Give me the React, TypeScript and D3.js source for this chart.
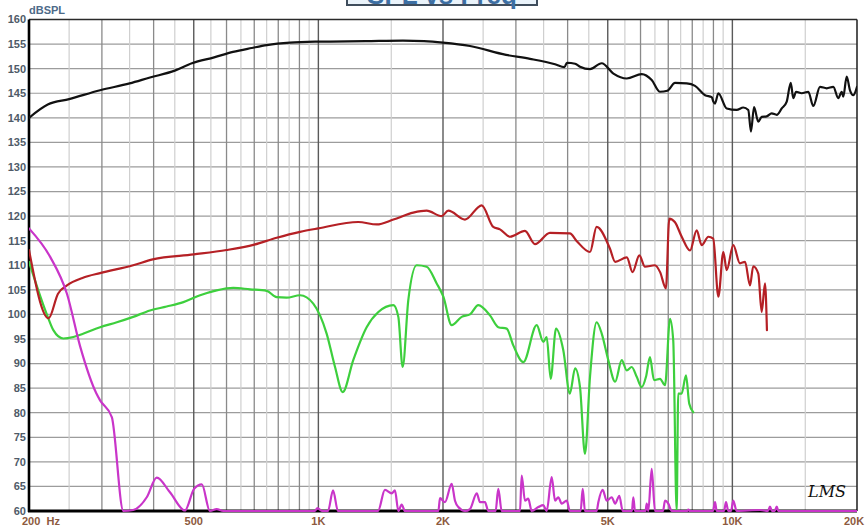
import React from 'react';
import * as d3 from 'd3';

// frequency (Hz), level (dB SPL)
const blackCurve: [number, number][] = [
  [200, 140], [222, 142.7], [250, 143.8], [297, 145.6], [350, 147], [392, 148.2], [450, 149.6],
  [495, 151.1], [560, 152.3], [622, 153.4], [690, 154.2], [751, 154.8], [854, 155.3], [1000, 155.5],
  [1300, 155.6], [1600, 155.7], [1800, 155.6], [2000, 155.3], [2324, 154.6], [2840, 152.8],
  [3245, 152.0], [3730, 150.9], [3930, 150.3], [3985, 151.2], [4170, 151.0], [4285, 150.4],
  [4530, 149.9], [4835, 151.1], [5160, 149.0], [5557, 148.0], [6040, 148.9], [6385, 147.7],
  [6687, 145.3], [6964, 145.5], [7270, 147.1], [7757, 147.0], [8124, 146.5], [8590, 144.6],
  [8915, 144.2], [8995, 143.3], [9080, 142.9], [9246, 145.0], [9690, 141.9], [10240, 141.6],
  [10625, 142.1], [10925, 141.6], [11090, 137.2], [11280, 142.2], [11550, 139.2], [11770, 140.2],
  [12100, 140.3], [12445, 140.9], [12800, 140.6], [13160, 141.9], [13530, 143.3], [13835, 147.1],
  [14035, 144.0], [14250, 145.3], [14705, 145.0], [15255, 145.3], [15685, 142.4], [16280, 146.3],
  [16900, 146.0], [17530, 146.3], [18025, 144.0], [18370, 145.3], [18530, 144.3], [18885, 148.4],
  [19235, 145.6], [19590, 144.6], [20000, 146.3],
];

const redCurve: [number, number][] = [
  [200, 113.1], [223, 99.2], [235, 104.2], [247, 105.9], [271, 107.5], [297, 108.4], [357, 110.0],
  [398, 111.2], [500, 112.2], [600, 113.1], [700, 114.2], [793, 115.6], [903, 116.8], [1000, 117.5],
  [1248, 118.8], [1384, 118.3], [1518, 119.3], [1695, 120.7], [1826, 121.1], [1985, 120.0],
  [2060, 121.1], [2260, 119.3], [2480, 122.2], [2645, 117.8], [2746, 117.3], [2904, 115.8],
  [3155, 117.0], [3336, 114.3], [3625, 116.6], [4050, 116.5], [4210, 114.9], [4530, 112.7],
  [4700, 117.8], [5060, 113.4], [5210, 110.7], [5560, 111.6], [5740, 108.6], [5960, 112.0],
  [6150, 109.7], [6500, 110.0], [6690, 108.6], [6910, 105.3], [7040, 119.5], [7260, 118.8],
  [7545, 115.8], [7900, 113.0], [8200, 117.1], [8430, 114.1], [8750, 115.8], [8990, 115.4],
  [9250, 103.6], [9510, 112.7], [9690, 109.0], [10050, 114.1], [10430, 110.4], [10730, 110.7],
  [11030, 105.9], [11230, 109.8], [11550, 108.3], [11770, 100.5], [11990, 106.3], [12120, 96.8],
];

const greenCurve: [number, number][] = [
  [200, 110.7], [222, 99.5], [229, 96.8], [242, 95.1], [256, 95.4], [271, 96.1], [297, 97.4],
  [326, 98.4], [357, 99.5], [392, 100.8], [430, 101.6], [472, 102.5], [518, 103.9], [568, 104.9],
  [623, 105.4], [684, 105.1], [750, 104.8], [793, 103.5], [838, 103.4], [903, 103.9], [972, 102.2],
  [1047, 96.1], [1097, 89.3], [1145, 84.2], [1214, 90.7], [1308, 97.4], [1396, 100.5], [1518, 101.9],
  [1560, 99.5], [1598, 89.3], [1649, 102.9], [1728, 110.0], [1826, 109.7], [1931, 106.3],
  [2004, 103.6], [2099, 97.8], [2219, 99.5], [2324, 100.0], [2434, 101.9], [2597, 99.8],
  [2720, 97.4], [2850, 97.1], [2957, 93.7], [3126, 90.3], [3368, 97.8], [3494, 94.4], [3560, 95.4],
  [3640, 86.9], [3750, 97.1], [3905, 92.7], [4050, 83.9], [4170, 89.0], [4285, 85.2], [4405, 71.6],
  [4530, 87.3], [4700, 98.4], [4835, 96.1], [5015, 90.7], [5210, 86.3], [5404, 90.7], [5557, 88.6],
  [5713, 89.3], [5874, 87.3], [6040, 85.2], [6185, 87.3], [6324, 91.3], [6467, 86.6], [6687, 86.9],
  [6875, 85.6], [7070, 99.1], [7197, 94.7], [7335, 60], [7400, 83.9], [7543, 83.9], [7726, 87.6],
  [7868, 81.8], [8046, 80.1],
];

const magentaCurve: [number, number][] = [
  [200, 117.5], [225, 111.7], [247, 104.2], [266, 93.4], [291, 83.9], [297, 82.5], [317, 79.1],
  [338, 60], [357, 60.2], [385, 62.8], [407, 66.8], [438, 63.8], [476, 60.1], [501, 64.5],
  [523, 65.4], [547, 60], [568, 60.4], [589, 60], [980, 60], [995, 60.6], [1020, 60], [1055, 60],
  [1085, 64.2], [1115, 60], [1393, 60], [1448, 64.3], [1504, 63.6], [1531, 64.2], [1560, 60],
  [1589, 61.3], [1619, 60], [1949, 60], [1967, 62.6], [2022, 61.8], [2099, 65.5], [2138, 62.1],
  [2178, 60.8], [2260, 60], [2324, 60.4], [2413, 63.6], [2457, 61.8], [2526, 61.8], [2573, 60],
  [2680, 60], [2720, 64.5], [2772, 60], [3069, 60], [3098, 67.2], [3155, 62.1], [3214, 62.5],
  [3275, 60], [3398, 60.8], [3494, 61.2], [3560, 60], [3661, 66.9], [3730, 62.1], [3798, 62.8],
  [3870, 61.5], [3980, 62.1], [4050, 60], [4300, 60], [4350, 64.5], [4405, 60], [4700, 60],
  [4745, 61.8], [4862, 64.3], [4971, 62.1], [5112, 62.8], [5210, 61.5], [5332, 63.1], [5434, 60],
  [5720, 60], [5764, 62.8], [5818, 60], [6170, 60], [6209, 61.5], [6265, 60], [6385, 68.6],
  [6502, 60], [6800, 60], [6875, 62.1], [7002, 61.5], [7136, 60], [7780, 60], [7826, 60.3],
  [7900, 60], [8979, 60], [9080, 61.8], [9166, 60], [9546, 60], [9652, 61.8], [9776, 60],
  [9924, 60], [10050, 62.1], [10240, 60], [11660, 60.2], [12190, 60], [12326, 60.9], [12464, 60],
  [12652, 60], [12800, 60.9], [12908, 60], [20000, 60],
];

const yTicks = d3.range(60, 161, 5);
const majorGrid = [300, 400, 600, 700, 800, 900, 3000, 4000, 6000, 7000, 8000, 9000];
const labelGrid = [500, 1000, 2000, 5000, 10000];
const minorGrid = [250, 350, 450, 550, 650, 750, 850, 950, 1500, 2500, 3500, 4500, 5500, 6500, 7500,
  8500, 9500, 15000];
const xLabels: [number, string][] = [
  [200, '200  Hz'], [500, '500'], [1000, '1K'], [2000, '2K'], [5000, '5K'], [10000, '10K'], [20000, '20K'],
];

const W = 868;
const H = 529;
const left = 29;
const right = 857;
const top = 19.5;
const bottom = 511;

const App = () => {
  const x = d3.scaleLog().domain([200, 20000]).range([left, right]);
  const y = d3.scaleLinear().domain([60, 160]).range([bottom, top]);
  const line = d3.line<[number, number]>()
    .x(d => x(d[0]))
    .y(d => y(d[1]))
    .curve(d3.curveMonotoneX);

  const font = '"Liberation Sans", Arial, sans-serif';

  return (
    <svg width={W} height={H} style={{ position: 'absolute', left: 0, top: 0, background: '#fff' }}>
      <defs>
        <clipPath id="plot">
          <rect x={left} y={top} width={right - left} height={bottom - top + 2} />
        </clipPath>
      </defs>

      {/* title box, mostly cut off at the top as in the original */}
      <rect x={347} y={-22} width={190} height={27} fill="#eaf3fa" stroke="#3f4d5c" strokeWidth={2} />
      <text x={442} y={4} textAnchor="middle" fontFamily={font} fontWeight="bold" fontSize={26}
        fill="#3d6fa3">SPL vs Freq</text>

      {/* grid */}
      {yTicks.map(t => (
        <line key={'h' + t} x1={left} x2={right} y1={y(t)} y2={y(t)} stroke="#9c9c9c" strokeWidth={1.2} />
      ))}
      {minorGrid.map(f => (
        <line key={'m' + f} x1={x(f)} x2={x(f)} y1={top} y2={bottom} stroke="#cfcfcf" strokeWidth={1.2} />
      ))}
      {majorGrid.map(f => (
        <line key={'M' + f} x1={x(f)} x2={x(f)} y1={top} y2={bottom} stroke="#8a8a8a" strokeWidth={1.3} />
      ))}
      {labelGrid.map(f => (
        <line key={'L' + f} x1={x(f)} x2={x(f)} y1={top} y2={bottom} stroke="#5a5a5a" strokeWidth={1.4} />
      ))}

      {/* frame */}
      <line x1={left} x2={right} y1={top} y2={top} stroke="#2a2a2a" strokeWidth={1.6} />
      <line x1={right} x2={right} y1={top} y2={bottom} stroke="#2a2a2a" strokeWidth={1.6} />
      <line x1={left} x2={left} y1={top} y2={bottom + 1} stroke="#000" strokeWidth={2.6} />
      <line x1={left - 1} x2={right} y1={bottom} y2={bottom} stroke="#000" strokeWidth={3} />

      {/* curves */}
      <g clipPath="url(#plot)" fill="none" strokeLinejoin="round" strokeLinecap="round">
        <path d={line(greenCurve) ?? ''} stroke="#3dcf3d" strokeWidth={2.2} />
        <path d={line(redCurve) ?? ''} stroke="#b52025" strokeWidth={2.2} />
        <path d={line(blackCurve) ?? ''} stroke="#111" strokeWidth={2.2} />
        <path d={line(magentaCurve) ?? ''} stroke="#c935c9" strokeWidth={2.2} />
      </g>

      {/* y labels */}
      {yTicks.map(t => (
        <text key={'yl' + t} x={26} y={y(t)} dy="0.35em" textAnchor="end" fontFamily={font}
          fontWeight="bold" fontSize={11} fill="#4f5b68">{t}</text>
      ))}
      <text x={29} y={14} fontFamily={font} fontWeight="bold" fontSize={11} fill="#4d6a88">dBSPL</text>

      {/* x labels */}
      {xLabels.map(([f, s], i) => (
        <text key={'xl' + f} x={i === 0 ? x(f) - 7 : i === xLabels.length - 1 ? x(f) - 3 : x(f)}
          y={525} textAnchor={i === 0 ? 'start' : 'middle'} fontFamily={font} fontWeight="bold"
          fontSize={11} fill="#8d5a3e" style={{ whiteSpace: 'pre' }}>{s}</text>
      ))}

      {/* logo */}
      <text x={808} y={497} fontFamily='"DejaVu Serif", serif' fontStyle="italic" fontSize={16}
        fill="#111">LMS</text>
    </svg>
  );
};

export default App;
